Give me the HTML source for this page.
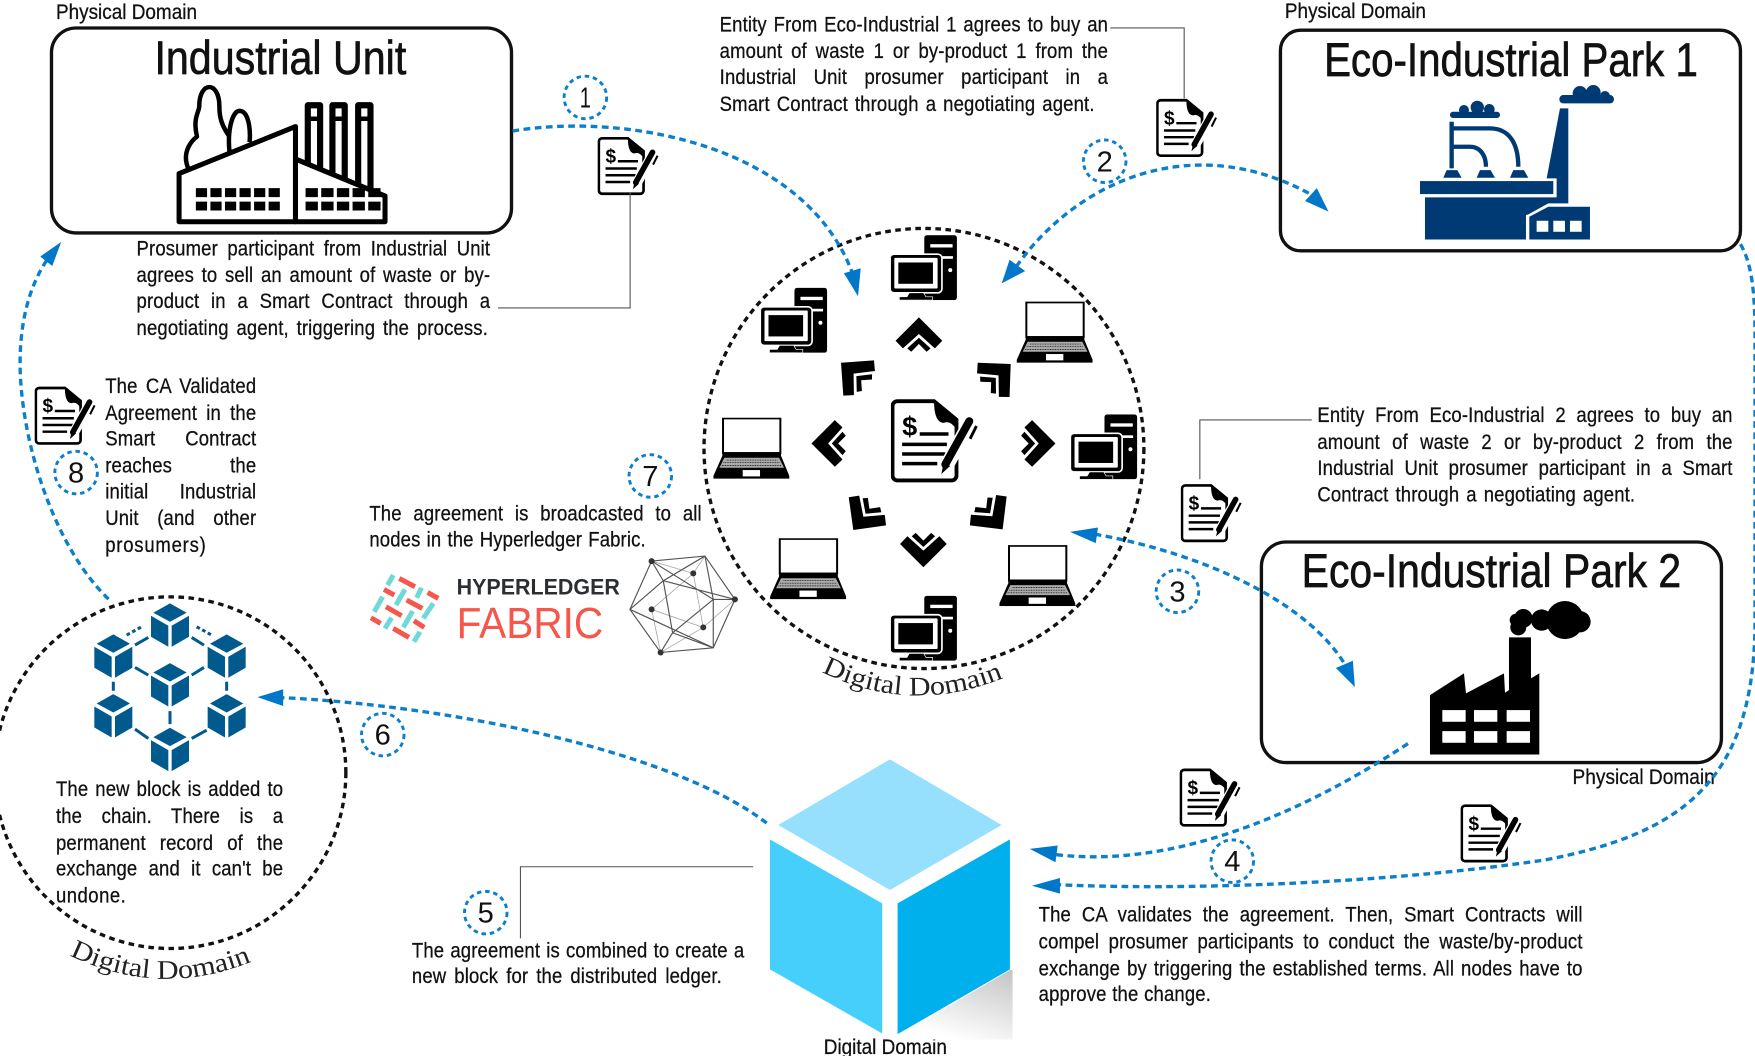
<!DOCTYPE html>
<html><head><meta charset="utf-8"><title>Diagram</title>
<style>
html,body{margin:0;padding:0;background:#fff;width:1755px;height:1056px;overflow:hidden}
#s{position:absolute;left:0;top:0;width:1568px;height:943px;transform-origin:0 0;transform:scale(1.11926,1.11983);filter:blur(.35px);overflow:hidden}
#s svg.m{position:absolute;left:0;top:0}
.t{position:absolute;font:19px/24px "Liberation Sans",sans-serif;letter-spacing:.15px;color:#111;text-align:justify;text-align-last:justify;height:24px;overflow:visible;width:calc(var(--w)/.87);transform:translateY(1px) scaleX(.87);transform-origin:0 0;-webkit-text-stroke:.25px #111}
.n{font-family:"Liberation Sans",sans-serif;fill:#111}
.ti{stroke:#111;stroke-width:.6}
.la{stroke:#111;stroke-width:.25}
.num{font:26px "Liberation Sans",sans-serif;fill:#111;text-anchor:middle}
.blue{fill:none;stroke:#0a7fcb;stroke-width:3;stroke-dasharray:6 4}
.bc{fill:none;stroke:#0a7fcb;stroke-width:2.6;stroke-dasharray:4 3.4}
.head{fill:#0077c8}
.thin{fill:none;stroke:#555;stroke-width:1}
.dot{fill:none;stroke:#111;stroke-width:3;stroke-dasharray:5 4}
.box{fill:#fff;stroke:#111;stroke-width:3}
.ser{font-family:"Liberation Serif",serif;font-size:24px;fill:#222}
</style></head><body>
<div id="s">
<svg class="m" width="1568" height="943" viewBox="0 0 1568 943" xmlns="http://www.w3.org/2000/svg">
<defs>
<symbol id="doc" viewBox="0 0 56 53">
<path d="M4,1.5H27L41,13V48a3,3 0 0 1-3,3H4a3,3 0 0 1-3-3V4.500a3,3 0 0 1 3-3z" fill="#fff" stroke="#000" stroke-width="2.4"/>
<path d="M27,2L41,13V19C38,15 36,14 33,15C29,15 27,10 27,2z" fill="#000"/>
<text x="7" y="23" font-size="17" font-weight="bold" font-family="Liberation Sans,sans-serif" fill="#000">$</text>
<path d="M18,22H36M7,28.500H35M7,34.500H34M7,40.500H29" stroke="#000" stroke-width="2.200" fill="none"/>
<path d="M33,45L50,14" stroke="#fff" stroke-width="9"/>
<path d="M34,41L49,14" stroke="#000" stroke-width="5" stroke-linecap="round"/>
<path d="M31.500,47L33,40L37,42z" fill="#000"/>
<path d="M53.500,17L49.500,25" stroke="#000" stroke-width="1.800"/>
</symbol>
<symbol id="pc" viewBox="0 0 200 195">
<rect x="100" y="0" width="98" height="195" rx="8" fill="#000"/>
<rect x="118" y="27" width="67" height="10" fill="#fff"/>
<rect x="148" y="63" width="38" height="8" fill="#fff"/>
<circle cx="178" cy="105" r="6" fill="#fff"/>
<rect x="-3" y="57" width="156" height="116" rx="12" fill="#000" stroke="#fff" stroke-width="5"/>
<rect x="10" y="68" width="130" height="92" rx="3" fill="#fff"/>
<rect x="22" y="82" width="104" height="64" fill="#000"/>
<path d="M55,173H98L105,185H125V195H25V185H48z" fill="#000" stroke="#fff" stroke-width="2"/>
</symbol>
<symbol id="lap" viewBox="0 0 228 183">
<rect x="29" y="2" width="172" height="104" fill="#fff" stroke="#000" stroke-width="6"/>
<path d="M27,108H203V114H27zM27,114H203L228,175V183H0V175z" fill="#000"/>
<path d="M33,120H197L212,150H18z" fill="#aaa"/>
<path d="M40,127H192M30,135H200M25,143H205" stroke="#000" stroke-width="2" stroke-dasharray="3 2"/>
<rect x="88" y="157" width="52" height="19" fill="#fff"/>
</symbol>
<g id="chev"><path d="M0,0L70,70L48,93L0,50L-48,93L-70,70z M0,61L35,93L23,103L0,80L-23,103L-35,93z" fill="#000" transform="scale(.298)"/></g>
<g id="cb" fill="#005a8e"><path d="M0,-65L50,-37L0,-10L-50,-37z M-57,-28L-5,2V65L-57,35z M57,-28L5,2V65L57,35z"/></g>
</defs>

<!-- Boxes -->
<rect class="box" x="46" y="25" width="411" height="183" rx="22"/>
<rect class="box" x="1144" y="27" width="411" height="197" rx="18"/>
<rect class="box" x="1127" y="484" width="411" height="197" rx="22"/>

<!-- titles -->
<text class="n ti" x="138" y="66" font-size="42" textLength="225" lengthAdjust="spacingAndGlyphs">Industrial Unit</text>
<text class="n ti" x="1183" y="68" font-size="42" textLength="334" lengthAdjust="spacingAndGlyphs">Eco-Industrial Park 1</text>
<text class="n ti" x="1163" y="524" font-size="42" textLength="339" lengthAdjust="spacingAndGlyphs">Eco-Industrial Park 2</text>
<text class="n la" x="50" y="17" font-size="19" textLength="126" lengthAdjust="spacingAndGlyphs">Physical Domain</text>
<text class="n la" x="1148" y="16" font-size="19" textLength="126" lengthAdjust="spacingAndGlyphs">Physical Domain</text>
<text class="n la" x="1405" y="700" font-size="19" textLength="127" lengthAdjust="spacingAndGlyphs">Physical Domain</text>
<text class="n la" x="736" y="941" font-size="19" textLength="110" lengthAdjust="spacingAndGlyphs">Digital Domain</text>

<!-- Industrial unit icon -->
<g fill="#fff" stroke="#000" stroke-width="4.500" stroke-linejoin="round">
<path d="M168,150C162,135 172,125 176,122C172,105 178,100 178,95C178,72 196,72 196,95C196,105 198,112 205,122C208,128 206,135 204,137" stroke-width="4"/>
<path d="M205,135C203,115 208,99 214,99C222,99 224,115 223,127" stroke-width="4"/>
<rect x="275" y="94" width="11" height="60" stroke-width="5.500"/>
<rect x="297" y="94" width="11" height="70" stroke-width="5.500"/>
<rect x="320" y="94" width="11" height="75" stroke-width="5.500"/>
<path d="M273,106H288M295,106H310M318,106H333" stroke-width="4"/>
<path d="M160,198V155L264,113V198z"/>
<path d="M264,198V142L344,175V198z"/>
</g>
<g fill="#000">
<path d="M175,168h10v8h-10zM188,168h10v8h-10zM201,168h10v8h-10zM214,168h10v8h-10zM227,168h10v8h-10zM240,168h10v8h-10zM175,180h10v8h-10zM188,180h10v8h-10zM201,180h10v8h-10zM214,180h10v8h-10zM227,180h10v8h-10zM240,180h10v8h-10z"/>
<path d="M273,168h11v8h-11zM287,168h11v8h-11zM301,168h11v8h-11zM315,168h11v8h-11zM329,168h11v8h-11zM273,180h11v8h-11zM287,180h11v8h-11zM301,180h11v8h-11zM315,180h11v8h-11zM329,180h11v8h-11z"/>
</g>

<!-- Park 1 icon -->
<g transform="translate(1116.8 0) scale(.2978)" fill="#003a75">
<rect x="510" y="543" width="400" height="39"/>
<path d="M930,325H955V610H895L835,643L828,645V718H525V592H920V535H890z"/>
<path d="M838,650L895,620H1020V718H838z"/>
<rect x="860" y="662" width="35" height="33" fill="#fff"/><rect x="910" y="662" width="35" height="33" fill="#fff"/><rect x="960" y="662" width="35" height="33" fill="#fff"/>
<rect x="600" y="335" width="150" height="19" rx="9"/><circle cx="642" cy="330" r="15"/><circle cx="682" cy="322" r="20"/><circle cx="718" cy="328" r="16"/>
<rect x="928" y="285" width="164" height="25" rx="12"/><circle cx="990" cy="280" r="22"/><circle cx="1030" cy="277" r="22"/><circle cx="1065" cy="288" r="15"/>
<path d="M605,365V505M610,385H720C770,385 805,420 805,500M610,440H660C690,440 708,465 708,500" fill="none" stroke="#003a75" stroke-width="13"/>
<path d="M590,510H622L635,533H580zM690,510H722L735,533H680zM790,510H822L835,533H780z"/>
</g>

<!-- Park 2 icon -->
<g transform="translate(1116.8 473.3) scale(.2978)" fill="#000">
<path d="M540,495L642,430L648,490L762,430L765,488L777,480V322H843V445L868,430V673H540z"/>
<g fill="#fff"><rect x="577" y="540" width="70" height="35"/><rect x="672" y="540" width="70" height="35"/><rect x="770" y="540" width="70" height="35"/><rect x="577" y="603" width="70" height="35"/><rect x="672" y="603" width="70" height="35"/><rect x="770" y="603" width="70" height="35"/></g>
<circle cx="945" cy="270" r="57"/><circle cx="990" cy="275" r="32"/><circle cx="875" cy="270" r="32"/><circle cx="820" cy="265" r="28"/><circle cx="805" cy="292" r="24"/><circle cx="798" cy="270" r="19"/>
</g>

<!-- Big cube -->
<g transform="translate(661.1 660.8) scale(.2978)">
<linearGradient id="sh" x1="1" y1="0" x2=".5" y2="1"><stop offset="0" stop-color="#c4c4c4"/><stop offset="1" stop-color="#fff"/></linearGradient>
<path d="M480,885L810,690H818V898H490z" fill="url(#sh)"/>
<path d="M450,58L785,255L450,450L115,255z" fill="#96dffd"/>
<path d="M90,298L427,490V880L90,688z" fill="#46cffb"/>
<path d="M473,490L810,298V688L473,882z" fill="#00b0ec"/>
</g>

<!-- Blockchain -->
<g transform="translate(0 518) scale(.2978)">
<g stroke="#005a8e" stroke-width="9" fill="none">
<path d="M405,195L445,172M575,172L612,195M340,305V332M680,305V332M405,262L445,285M612,262L575,285M510,393V432M405,447L445,475M620,450L575,475"/>
<path d="M380,165L425,140M590,140L635,165" stroke-dasharray="11 8"/>
</g>
<use href="#cb" x="510" y="135"/><use href="#cb" x="340" y="228"/><use href="#cb" x="680" y="228"/><use href="#cb" x="510" y="314"/><use href="#cb" x="340" y="407"/><use href="#cb" x="680" y="407"/><use href="#cb" x="510" y="508"/>
</g>

<!-- Hyperledger -->
<g transform="translate(321.6 491.2) scale(.2978)">
<g stroke="#f5574c" stroke-width="15" fill="none">
<path d="M118,85L165,110M72,118L103,135M203,127L235,145M140,150L187,175M78,170L125,197M33,203L62,220M162,212L193,232M100,235L147,262"/>
</g>
<g stroke="#6fd8d8" stroke-width="15" fill="none">
<path d="M100,75L83,105M185,113L170,143M135,118L108,165M68,140L43,185M220,160L190,205M158,183L130,232M95,203L75,235M180,245L162,275"/>
</g>
<text x="290" y="133" font-family="Liberation Sans,sans-serif" font-weight="bold" font-size="66" fill="#2b2f33" textLength="490" lengthAdjust="spacingAndGlyphs">HYPERLEDGER</text>
<text x="290" y="263" font-family="Liberation Sans,sans-serif" font-size="130" fill="#f5574c" textLength="440" lengthAdjust="spacingAndGlyphs">FABRIC</text>
<g stroke="#aaa" stroke-width="2.500" fill="none"><path d="M875,33L1000,70M1000,70L1030,232M875,178L1000,70M875,178L1030,232M875,178L902,307M1030,232L902,307M1030,232L1125,148M1000,70L1035,18"/></g>
<g stroke="#555" stroke-width="3.500" fill="none">
<path d="M875,33L1035,18L1125,148L1060,293L902,307L810,178z"/>
<path d="M875,33L1060,148M910,92L1035,18M810,178L910,92M910,92L938,248M1060,148L938,248M810,178L1060,293M1060,148L1125,148M902,307L938,248M938,248L1060,293M875,33L910,92M1060,148L1035,18M910,92L1125,148M1060,148L1060,293"/>
</g>
<g fill="#333"><circle cx="875" cy="33" r="9"/><circle cx="1000" cy="70" r="9"/><circle cx="1125" cy="148" r="9"/><circle cx="875" cy="178" r="9"/><circle cx="1030" cy="232" r="9"/><circle cx="902" cy="307" r="9"/></g>
</g>

<!-- Digital domain circles -->
<circle class="dot" cx="825.500" cy="400.500" r="196.500"/>
<circle class="dot" cx="152" cy="690" r="157"/>

<!-- computers -->
<use href="#pc" x="796" y="210" width="59.600" height="58"/>
<use href="#pc" x="680" y="257" width="59.600" height="58"/>
<use href="#pc" x="957" y="370" width="59.600" height="58"/>
<use href="#pc" x="796" y="532" width="59.600" height="58"/>
<use href="#lap" x="908.300" y="269.400" width="68" height="54.500"/>
<use href="#lap" x="637.300" y="373" width="68" height="54.500"/>
<use href="#lap" x="688" y="480.600" width="68" height="54.500"/>
<use href="#lap" x="892.800" y="486.800" width="68" height="54.500"/>

<!-- chevrons -->
<use href="#chev" transform="translate(821 283.400)"/>
<use href="#chev" transform="translate(943 396) rotate(90)"/>
<use href="#chev" transform="translate(825 506.600) rotate(180)"/>
<use href="#chev" transform="translate(725 396) rotate(-90)"/>
<use href="#chev" transform="translate(751.400 323.900) rotate(-49)"/>
<use href="#chev" transform="translate(903 325) rotate(47)"/>
<use href="#chev" transform="translate(895.800 472.700) rotate(142)"/>
<use href="#chev" transform="translate(762.400 473.300) rotate(-143)"/>

<!-- contract icons -->
<use href="#doc" x="796" y="356" width="80" height="76"/>
<use href="#doc" x="534" y="122" width="56" height="53"/>
<use href="#doc" x="1033" y="88" width="56" height="53"/>
<use href="#doc" x="1055" y="432" width="56" height="53"/>
<use href="#doc" x="31" y="345" width="56" height="53"/>
<use href="#doc" x="1054" y="686" width="56" height="53"/>
<use href="#doc" x="1305" y="718" width="56" height="53"/>

<!-- thin leader lines -->
<path class="thin" d="M445,275H563V172"/>
<path class="thin" d="M992,25H1058V88"/>
<path class="thin" d="M1172,375H1072V428"/>
<path class="thin" d="M673,774H465V838"/>

<!-- connectors -->
<path class="blue" d="M458,117C560,100 720,130 762,245"/>
<path class="head" d="M766.600,264.600L754,244L769,239.600z"/>
<path class="blue" d="M908,238C962,162 1065,115 1172,174"/>
<path class="head" d="M895,253L902,232L916,242z"/>
<path class="head" d="M1187,189L1166,179.500L1176.500,168z"/>
<path class="blue" d="M978,477C1080,495 1170,540 1202,594"/>
<path class="head" d="M956,475L981,471L979,485z"/>
<path class="head" d="M1210.500,613.500L1193.500,596.500L1208.700,590z"/>
<path class="blue" d="M1258,664C1150,735 1040,775 942,763"/>
<path class="head" d="M920,758L945,755L943,770z"/>
<path class="blue" d="M1555,218C1565,235 1568,260 1568,300V560C1566,700 1500,745 1380,768C1230,790 1050,795 945,790"/>
<path class="head" d="M922,791L947,784L947,798z"/>
<path class="blue" d="M685,735C600,670 400,630 252,623"/>
<path class="head" d="M230,622.500L253,615.500L253,630.500z"/>
<path class="blue" d="M97,535C50,490 20,400 18,330C17,280 30,250 42,232"/>
<path class="head" d="M54.700,216L36,229L46.700,237.500z"/>

<!-- numbers -->
<circle class="bc" cx="523" cy="87" r="19"/><text class="num" x="523" y="96" textLength="10" lengthAdjust="spacingAndGlyphs">1</text>
<circle class="bc" cx="987" cy="144" r="19"/><text class="num" x="987" y="153">2</text>
<circle class="bc" cx="1052" cy="528" r="19"/><text class="num" x="1052" y="537">3</text>
<circle class="bc" cx="1101" cy="769" r="19"/><text class="num" x="1101" y="778">4</text>
<circle class="bc" cx="434" cy="815" r="19"/><text class="num" x="434" y="824">5</text>
<circle class="bc" cx="342" cy="656" r="19"/><text class="num" x="342" y="665">6</text>
<circle class="bc" cx="581" cy="425" r="19"/><text class="num" x="581" y="434">7</text>
<circle class="bc" cx="68" cy="422" r="19"/><text class="num" x="68" y="431">8</text>

<!-- curved labels -->
<path id="c1" d="M734,600Q815,640 900,604" fill="none"/>
<path id="c2" d="M62,853Q144,893 229,857" fill="none"/>
<text class="ser"><textPath href="#c1" textLength="168" lengthAdjust="spacingAndGlyphs">Digital Domain</textPath></text>
<text class="ser"><textPath href="#c2" textLength="168" lengthAdjust="spacingAndGlyphs">Digital Domain</textPath></text>
</svg>

<div class="t" style="left:122px;top:210px;--w:316px">Prosumer participant from Industrial Unit</div>
<div class="t" style="left:122px;top:234px;--w:316px">agrees to sell an amount of waste or by-</div>
<div class="t" style="left:122px;top:257px;--w:316px">product in a Smart Contract through a</div>
<div class="t" style="left:122px;top:281px;--w:314px">negotiating agent, triggering the process.</div>

<div class="t" style="left:643px;top:10px;--w:347px">Entity From Eco-Industrial 1 agrees to buy an</div>
<div class="t" style="left:643px;top:34px;--w:347px">amount of waste 1 or by-product 1 from the</div>
<div class="t" style="left:643px;top:57px;--w:347px">Industrial Unit prosumer participant in a</div>
<div class="t" style="left:643px;top:81px;--w:335px">Smart Contract through a negotiating agent.</div>

<div class="t" style="left:1177px;top:359px;--w:371px">Entity From Eco-Industrial 2 agrees to buy an</div>
<div class="t" style="left:1177px;top:383px;--w:371px">amount of waste 2 or by-product 2 from the</div>
<div class="t" style="left:1177px;top:406px;--w:371px">Industrial Unit prosumer participant in a Smart</div>
<div class="t" style="left:1177px;top:430px;--w:284px">Contract through a negotiating agent.</div>

<div class="t" style="left:94px;top:333px;--w:135px">The CA Validated</div>
<div class="t" style="left:94px;top:357px;--w:135px">Agreement in the</div>
<div class="t" style="left:94px;top:380px;--w:135px">Smart Contract</div>
<div class="t" style="left:94px;top:404px;--w:135px">reaches the</div>
<div class="t" style="left:94px;top:427px;--w:135px">initial Industrial</div>
<div class="t" style="left:94px;top:451px;--w:135px">Unit (and other</div>
<div class="t" style="left:94px;top:475px;--w:88px;text-align-last:left;letter-spacing:.8px">prosumers)</div>

<div class="t" style="left:330px;top:447px;--w:297px">The agreement is broadcasted to all</div>
<div class="t" style="left:330px;top:470px;--w:247px">nodes in the Hyperledger Fabric.</div>

<div class="t" style="left:50px;top:693px;--w:203px">The new block is added to</div>
<div class="t" style="left:50px;top:717px;--w:203px">the chain. There is a</div>
<div class="t" style="left:50px;top:741px;--w:203px">permanent record of the</div>
<div class="t" style="left:50px;top:764px;--w:203px">exchange and it can't be</div>
<div class="t" style="left:50px;top:788px;--w:58px;text-align-last:left;letter-spacing:.5px">undone.</div>

<div class="t" style="left:368px;top:837px;--w:297px">The agreement is combined to create a</div>
<div class="t" style="left:368px;top:860px;--w:277px">new block for the distributed ledger.</div>

<div class="t" style="left:928px;top:805px;--w:486px">The CA validates the agreement. Then, Smart Contracts will</div>
<div class="t" style="left:928px;top:829px;--w:486px">compel prosumer participants to conduct the waste/by-product</div>
<div class="t" style="left:928px;top:853px;--w:486px">exchange by triggering the established terms. All nodes have to</div>
<div class="t" style="left:928px;top:876px;--w:154px">approve the change.</div>
</div>
</body></html>
